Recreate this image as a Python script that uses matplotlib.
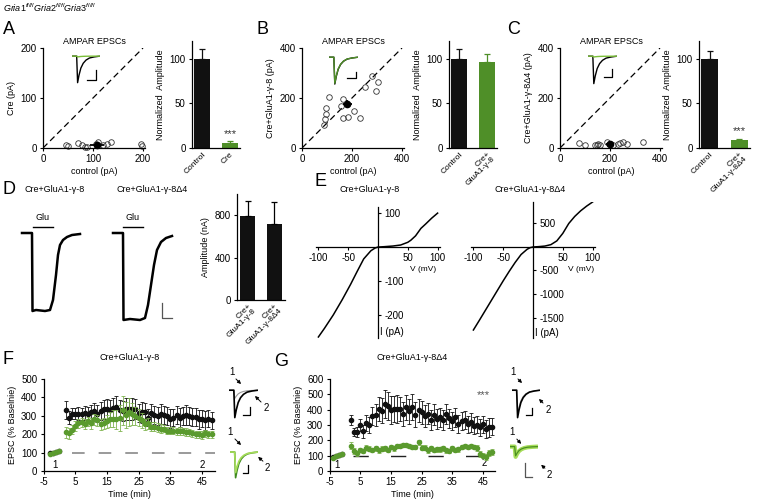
import numpy as np
import matplotlib
matplotlib.use('Agg')
import matplotlib.pyplot as plt
from matplotlib.lines import Line2D
from matplotlib.patches import FancyArrowPatch

plt.rcParams['font.family'] = ['Liberation Sans', 'DejaVu Sans']
plt.rcParams['font.size'] = 7
plt.rcParams['axes.unicode_minus'] = False
plt.rcParams['axes.linewidth'] = 0.9
plt.rcParams['xtick.major.size'] = 2.5
plt.rcParams['ytick.major.size'] = 2.5
plt.rcParams['xtick.major.pad'] = 2
plt.rcParams['ytick.major.pad'] = 2
plt.rcParams['mathtext.fontset'] = 'custom'
plt.rcParams['mathtext.it'] = 'Liberation Sans:italic'
plt.rcParams['mathtext.rm'] = 'Liberation Sans'

# ---------------- data ----------------
# A-C : scatter of individual pairs (control vs transfected), pA
a_ctrl = [45, 50, 70, 78, 83, 88, 106, 110, 120, 127, 135, 196, 197]
a_cre = [7, 4, 11, 6, 3, 3, 9, 12, 7, 9, 12, 8, 4]
a_mean = (108, 7, 14, 2)          # x, y, xerr, yerr
b_ctrl = [87, 93, 97, 97, 109, 164, 156, 164, 183, 207, 233, 253, 280, 297, 304]
b_cre = [91, 115, 138, 162, 203, 195, 168, 122, 125, 149, 121, 243, 289, 230, 266]
b_mean = (180, 175, 18, 16)
c_ctrl = [76, 100, 140, 147, 153, 160, 189, 197, 213, 233, 240, 251, 267, 333]
c_cre = [20, 13, 13, 11, 15, 13, 24, 15, 13, 17, 20, 24, 17, 24]
c_mean = (200, 17, 15, 3)

# normalized amplitude bars
a_bar = [100, 6]
a_bar_err = [11, 1.5]
b_bar = [100, 96]
b_bar_err = [11, 9]
c_bar = [100, 9]
c_bar_err = [9, 1.5]

# D : glutamate evoked currents
d_t1 = [0, 100, 105, 140, 230, 280, 310, 340, 360, 380, 410, 450, 500, 580]
d_i1 = [0, 0, -780, -770, -780, -770, -670, -420, -220, -120, -70, -40, -20, -10]
d_t2 = [0, 100, 105, 170, 270, 320, 350, 380, 410, 440, 480, 530, 590]
d_i2 = [0, 0, -870, -860, -870, -850, -720, -520, -320, -170, -90, -50, -30]
d_amp = [795, 720]
d_amp_err = [140, 200]
d_labels = ['Cre+\nGluA1-γ-8', 'Cre+\nGluA1-γ-8Δ4']

# E : I-V relations
e1_v = [-100, -90, -75, -60, -46, -35, -24, -12, -5, 0, 10, 25, 38, 50, 55, 63, 72, 80, 90, 100]
e1_i = [-265, -240, -200, -155, -110, -72, -35, -11, -3, 0, 1, 3, 6, 14, 20, 33, 55, 68, 85, 100]
e2_v = [-100, -90, -80, -70, -60, -50, -40, -30, -20, -10, -5, 0, 10, 20, 30, 40, 50, 60, 70, 80, 90, 100]
e2_i = [-1766, -1560, -1350, -1140, -930, -720, -520, -330, -160, -50, -15, 0, 8, 20, 50, 130, 290, 500,
        650, 770, 870, 957]

# F / G : time courses (% baseline)
f_base_t = [-3, -2, -1, 0]
f_base_black = [97, 100, 103, 108]
f_base_green = [95, 96, 102, 110]
f_t = [2, 3, 4, 5, 6, 7, 8, 9, 10, 11, 12, 13, 14, 15, 16, 17, 18, 19, 20, 21, 22, 23, 24, 25,
       26, 27, 28, 29, 30, 31, 32, 33, 34, 35, 36, 37, 38, 39, 40, 41, 42, 43, 44, 45, 46, 47, 48]
f_black = [333, 290, 312, 310, 312, 310, 315, 308, 318, 325,
           312, 325, 335, 335, 330, 340, 350, 330, 325, 335,
           338, 338, 338, 315, 318, 322, 290, 315, 305, 300,
           310, 305, 300, 285, 290, 305, 290, 300, 305, 300,
           295, 295, 280, 285, 275, 285, 275]
f_black_err = [50, 35, 30, 30, 35, 35, 40, 40, 40, 45,
               45, 50, 50, 55, 55, 55, 60, 55, 55, 60,
               60, 60, 55, 50, 55, 50, 45, 50, 50, 50,
               55, 50, 50, 50, 45, 50, 50, 50, 55, 50,
               50, 50, 50, 45, 50, 45, 45]
f_green = [210, 205, 225, 245, 260, 265, 255, 270, 260, 280,
           275, 255, 260, 270, 280, 285, 280, 290, 330, 305,
           320, 310, 300, 290, 275, 255, 260, 240, 240, 235,
           230, 230, 220, 220, 220, 215, 218, 215, 212, 210,
           205, 200, 200, 195, 205, 200, 200]
f_green_err = [30, 30, 25, 25, 25, 25, 25, 25, 30, 30,
               30, 30, 30, 35, 40, 45, 50, 70, 80, 70,
               75, 60, 50, 45, 40, 30, 30, 25, 25, 25,
               25, 20, 20, 20, 20, 20, 20, 20, 20, 20,
               20, 20, 20, 20, 20, 20, 20]

g_base_t = [-4, -3, -2, -1]
g_base_black = [90, 97, 103, 110]
g_base_green = [88, 95, 105, 112]
g_t = f_t
g_black = [332, 255, 255, 300, 258, 312, 300, 360, 365, 404,
           393, 437, 425, 397, 404, 404, 404, 371, 415, 389,
           419, 367, 397, 382, 360, 375, 332, 367, 338, 349,
           332, 371, 343, 328, 349, 306, 328, 332, 306, 317,
           295, 301, 284, 306, 273, 284, 290]
g_black_err = [30, 25, 30, 40, 40, 50, 50, 60, 70, 80,
               80, 90, 90, 90, 85, 90, 80, 80, 80, 80,
               85, 80, 75, 75, 70, 70, 65, 70, 65, 65,
               65, 65, 60, 60, 60, 60, 60, 60, 55, 60,
               55, 55, 55, 55, 60, 60, 55]
g_green = [164, 131, 116, 138, 131, 153, 146, 138, 148, 135,
           146, 148, 138, 157, 148, 164, 164, 170, 170, 164,
           157, 157, 186, 153, 153, 135, 148, 138, 142, 142,
           148, 135, 131, 148, 138, 142, 157, 164, 157, 164,
           157, 150, 112, 100, 90, 118, 125]
g_green_err = [22, 18, 15, 15, 15, 15, 15, 15, 15, 15,
               15, 15, 15, 15, 15, 15, 15, 15, 15, 15,
               15, 15, 18, 15, 15, 15, 15, 15, 15, 15,
               15, 15, 15, 15, 15, 15, 15, 15, 15, 15,
               15, 18, 18, 18, 18, 18, 18]

# normalized EPSC shape used for the example traces
ep_t = [0, 2, 2.4, 3, 3.8, 4.8, 6, 7.5, 9.5, 12]
ep_y = [0, 0, -1, -0.72, -0.45, -0.27, -0.15, -0.07, -0.03, 0]

BLACK = '#111111'
GREEN = '#4f8f28'
GREEN_PT = '#5a9a2e'
GREEN_ERR = '#80b450'
LIGHT_GREEN = '#a6dc5a'

W, H = 757, 501
fig = plt.figure(figsize=(7.57, 5.01), dpi=100)


def box(l, t, r, b):
    return [l / W, 1 - b / H, (r - l) / W, (b - t) / H]


def fpt(x, y):
    return (x / W, 1 - y / H)


def ftext(x, y, s, **kw):
    fig.text(x / W, 1 - y / H, s, **kw)


def fline(xs, ys, color='k', lw=0.9):
    fig.add_artist(Line2D([x / W for x in xs], [1 - y / H for y in ys], color=color, lw=lw))


def farrow(tail, head):
    fig.add_artist(FancyArrowPatch(posA=fpt(*tail), posB=fpt(*head), transform=fig.transFigure,
                                   arrowstyle='-|>', mutation_scale=5, lw=0.7, color='k'))


def clean(ax):
    ax.spines['top'].set_visible(False)
    ax.spines['right'].set_visible(False)


def scatter_panel(rect, xs, ys, mean, xmax, ylabel):
    ax = fig.add_axes(box(*rect))
    ax.plot([0, xmax], [0, xmax], color='k', lw=0.9, ls=(0, (5, 3)))
    ax.plot(xs, ys, 'o', mfc='none', mec='#333333', ms=4, mew=0.6, clip_on=False)
    ax.errorbar(mean[0], mean[1], xerr=mean[2], yerr=mean[3], fmt='o', color='k', ms=4.5,
                elinewidth=1.3, capsize=0, clip_on=False)
    ax.set_xlim(0, xmax * 1.02)
    ax.set_ylim(0, xmax)
    ax.set_xticks([0, xmax / 2, xmax])
    ax.set_yticks([0, xmax / 2, xmax])
    ax.set_xticklabels([0, int(xmax / 2), xmax])
    ax.set_yticklabels([0, int(xmax / 2), xmax])
    ax.set_xlabel('control (pA)', fontsize=6.5, labelpad=2)
    ax.set_ylabel(ylabel, fontsize=6.5, labelpad=3)
    ax.set_title('AMPAR EPSCs', fontsize=6.5, pad=3)
    clean(ax)
    return ax


def bar_panel(rect, vals, errs, colors, labels, ylim, yticks, ylabel, stars=None):
    ax = fig.add_axes(box(*rect))
    x = np.arange(len(vals))
    ax.bar(x, vals, width=0.57, color=colors)
    for xi, v, e, c in zip(x, vals, errs, colors):
        ax.errorbar(xi, v, yerr=[[0], [e]], color=c, capsize=2.2, elinewidth=0.9, capthick=0.9)
    ax.set_xlim(-0.36, 1.36)
    ax.set_ylim(*ylim)
    ax.set_yticks(yticks)
    ax.set_xticks(x)
    ax.set_xticklabels(labels, rotation=45, ha='right', rotation_mode='anchor', fontsize=6,
                       linespacing=0.9)
    ax.tick_params(axis='x', length=0)
    ax.set_ylabel(ylabel, fontsize=6.5, labelpad=3)
    if stars is not None:
        ax.text(1, stars, '***', ha='center', va='bottom', fontsize=8, color='#333333')
    clean(ax)
    return ax


def trace_inset(rect, traces, ylim=(-1.05, 0.08)):
    ax = fig.add_axes(box(*rect))
    for amp, color, lw in traces:
        ax.plot(ep_t, np.array(ep_y) * amp, color=color, lw=lw, solid_capstyle='butt')
    ax.set_xlim(0, 12)
    ax.set_ylim(*ylim)
    ax.axis('off')
    return ax


# ---------------- header ----------------
ftext(3, 8, r'$Gria1^{fl/fl}Gria2^{fl/fl}Gria3^{fl/fl}$', fontsize=6.5, va='center')
for lab, x, y in [('A', 3, 29), ('B', 257, 29), ('C', 507, 29), ('D', 3, 190),
                  ('E', 315, 182), ('F', 3, 359), ('G', 274, 361)]:
    ftext(x, y, lab, fontsize=13, va='center')

# ---------------- A / B / C ----------------
scatter_panel((43, 48, 145, 148), a_ctrl, a_cre, a_mean, 200, 'Cre (pA)')
scatter_panel((302, 48, 404, 148), b_ctrl, b_cre, b_mean, 400, 'Cre+GluA1-γ-8 (pA)')
scatter_panel((560, 48, 662, 148), c_ctrl, c_cre, c_mean, 400, 'Cre+GluA1-γ-8Δ4 (pA)')

bar_panel((192, 41, 240, 148), a_bar, a_bar_err, [BLACK, GREEN], ['Control', 'Cre'],
          (0, 120), [0, 50, 100], 'Normalized  Amplitude', stars=10)
bar_panel((449, 41, 497, 148), b_bar, b_bar_err, [BLACK, GREEN], ['Control', 'Cre+\nGluA1-γ-8'],
          (0, 120), [0, 50, 100], 'Normalized  Amplitude')
bar_panel((699, 41, 750, 148), c_bar, c_bar_err, [BLACK, GREEN], ['Control', 'Cre+\nGluA1-γ-8Δ4'],
          (0, 120), [0, 50, 100], 'Normalized  Amplitude', stars=13)

# example traces in the scatter plots
trace_inset((72, 54, 100, 84), [(1.0, 'k', 1.0), (0.03, '#7cbf3a', 1.0)])
fline([87, 96.5, 96.5], [80, 80, 70])
trace_inset((329, 55, 358, 86), [(0.98, 'k', 1.0), (0.95, GREEN, 1.0)])
fline([347, 356, 356], [78, 78, 72])
trace_inset((588, 54, 617, 85), [(1.0, 'k', 1.0), (0.03, '#7cbf3a', 1.0)])
fline([604, 612, 612], [77, 77, 69])

# ---------------- D ----------------
ftext(55, 190, 'Cre+GluA1-γ-8', fontsize=6.5, ha='center', va='center')
ftext(152, 190, 'Cre+GluA1-γ-8Δ4', fontsize=6.5, ha='center', va='center')
for rect, tt, ii, gx in [((20, 200, 100, 325), d_t1, d_i1, (110, 310)),
                         ((111, 200, 191, 325), d_t2, d_i2, (100, 300))]:
    ax = fig.add_axes(box(*rect))
    ax.plot(tt, ii, color='k', lw=1.8)
    ax.plot(gx, [60, 60], color='k', lw=1.0)
    ax.text(np.mean(gx), 110, 'Glu', ha='center', va='bottom', fontsize=6.5)
    ax.set_xlim(-20, 780)
    ax.set_ylim(-920, 330)
    ax.axis('off')
fline([162, 162, 172], [303, 318, 318], color='#555555')

ax = fig.add_axes(box(237, 194, 285, 300))
ax.bar([0, 1], d_amp, width=0.57, color=BLACK)
for xi, v, e in zip([0, 1], d_amp, d_amp_err):
    ax.errorbar(xi, v, yerr=[[0], [e]], color='k', capsize=2.2, elinewidth=0.9, capthick=0.9)
ax.set_xlim(-0.4, 1.4)
ax.set_ylim(0, 1000)
ax.set_yticks([0, 400, 800])
ax.set_xticks([0, 1])
ax.set_xticklabels(d_labels, rotation=45, ha='right', rotation_mode='anchor', fontsize=6,
                   linespacing=0.9)
ax.tick_params(axis='x', length=0)
ax.set_ylabel('Amplitude (nA)', fontsize=6.5, labelpad=3)
clean(ax)


# ---------------- E ----------------
def iv_panel(rect, v, i, xlim, ylim, yticks, vlab, ilab):
    ax = fig.add_axes(box(*rect))
    ax.plot(v, i, color='k', lw=1.1)
    ax.spines['left'].set_visible(False)
    ax.spines['top'].set_visible(False)
    ax.spines['right'].set_position(('data', 0))
    ax.spines['bottom'].set_position(('data', 0))
    ax.yaxis.set_ticks_position('right')
    ax.xaxis.set_ticks_position('bottom')
    ax.set_xticks([-100, -50, 50, 100])
    ax.set_yticks(yticks)
    ax.set_xlim(*xlim)
    ax.set_ylim(*ylim)
    ax.tick_params(labelsize=7)
    ax.text(vlab[0], vlab[1], 'V (mV)', fontsize=6, ha='center', va='center')
    ax.text(ilab[0], ilab[1], 'I (pA)', fontsize=7, ha='left', va='center')
    return ax


iv_panel((316, 207, 440, 338), e1_v, e1_i, (-104, 104), (-268, 118),
         [100, -100, -200], (76, -66), (4, -250))
ftext(370, 190, 'Cre+GluA1-γ-8', fontsize=6.5, ha='center', va='center')
iv_panel((471, 202, 595, 338), e2_v, e2_i, (-104, 104), (-1936, 957),
         [500, -500, -1000, -1500], (80, -470), (4, -1820))
ftext(530, 190, 'Cre+GluA1-γ-8Δ4', fontsize=6.5, ha='center', va='center')


# ---------------- F / G ----------------
def time_panel(rect, xlim, ylim, yticks, base_t, base_b, base_g, t, blk, blk_e, grn, grn_e,
               dash_color, dash_lw, dashes, dash_start, title):
    ax = fig.add_axes(box(*rect))
    ax.plot([dash_start, xlim[1]], [100, 100], color=dash_color, lw=dash_lw, ls=(0, dashes), zorder=1)
    ax.errorbar(t, blk, yerr=blk_e, fmt='o', color=BLACK, ms=3, elinewidth=0.6, capsize=1.5,
                capthick=0.6, zorder=3)
    ax.errorbar(t, grn, yerr=grn_e, fmt='o', mfc=GREEN_PT, mec=GREEN_PT, ecolor=GREEN_ERR, ms=3,
                elinewidth=0.6, capsize=1.5, capthick=0.6, zorder=4)
    ax.plot(base_t, base_b, 'o', color=BLACK, ms=3, zorder=3)
    ax.plot(base_t, base_g, 'o', color=GREEN_PT, ms=3, zorder=4)
    ax.set_xlim(*xlim)
    ax.set_ylim(*ylim)
    ax.set_yticks(yticks)
    ax.set_xticks([-5, 5, 15, 25, 35, 45])
    ax.set_xlabel('Time (min)', fontsize=6.5, labelpad=2)
    ax.set_ylabel('EPSC (% Baselnie)', fontsize=6.5, labelpad=3)
    ax.set_title(title, fontsize=6.5, pad=14)
    clean(ax)
    return ax


ax = time_panel((43.5, 379, 215, 471), (-5, 49.1), (0, 500), [0, 100, 200, 300, 400, 500],
                f_base_t, f_base_black, f_base_green, f_t, f_black, f_black_err, f_green, f_green_err,
                '#9a9a9a', 1.4, (6.5, 7.2), 3.9, 'Cre+GluA1-γ-8')
ax.text(-1.4, 33, '1', ha='center', va='center', fontsize=7)
ax.text(45, 33, '2', ha='center', va='center', fontsize=7)

ax = time_panel((329.5, 379, 495, 471), (-5, 48.9), (0, 600), [0, 100, 200, 300, 400, 500, 600],
                g_base_t, g_base_black, g_base_green, g_t, g_black, g_black_err, g_green, g_green_err,
                '#222222', 1.0, (11, 16), 2.75, 'Cre+GluA1-γ-8Δ4')
ax.text(-2.6, 39, '1', ha='center', va='center', fontsize=7)
ax.text(45.3, 52, '2', ha='center', va='center', fontsize=7)
ax.text(45, 497, '***', ha='center', va='center', fontsize=8, color='#555555')

# F example traces
trace_inset((229, 388, 258, 419), [(0.3, '#999999', 0.8), (1.0, 'k', 1.2)])
fline([243, 250, 250], [415, 415, 407])
ftext(232, 372, '1', fontsize=7, ha='center', va='center')
farrow((234, 377), (243, 386))
ftext(266, 408, '2', fontsize=7, ha='center', va='center')
farrow((263, 404), (253, 394))

trace_inset((230, 450, 258, 479), [(1.0, '#3e8a1e', 1.2), (0.8, LIGHT_GREEN, 1.2)])
fline([243, 248, 248], [473, 473, 465])
ftext(230, 432, '1', fontsize=7, ha='center', va='center')
farrow((233, 437), (243, 447))
ftext(267, 468, '2', fontsize=7, ha='center', va='center')
farrow((265, 463), (256, 455))

# G example traces
trace_inset((512, 388, 540, 419), [(0.85, '#999999', 0.8), (1.0, 'k', 1.2)])
fline([526, 532, 532], [415, 415, 408])
ftext(513, 372, '1', fontsize=7, ha='center', va='center')
farrow((516, 377), (524, 385))
ftext(548, 410, '2', fontsize=7, ha='center', va='center')
farrow((545, 405), (537, 397))

trace_inset((510, 444, 538, 462), [(0.2, LIGHT_GREEN, 3.0), (0.18, '#4a9020', 0.9)], ylim=(-0.3, 0.05))
fline([525, 525, 532], [463, 477, 477], color='#555555')
ftext(512, 432, '1', fontsize=7, ha='center', va='center')
farrow((515, 437), (523, 446))
ftext(549, 475, '2', fontsize=7, ha='center', va='center')
farrow((547, 470), (539, 463))

fig.savefig('out.png', dpi=100)
